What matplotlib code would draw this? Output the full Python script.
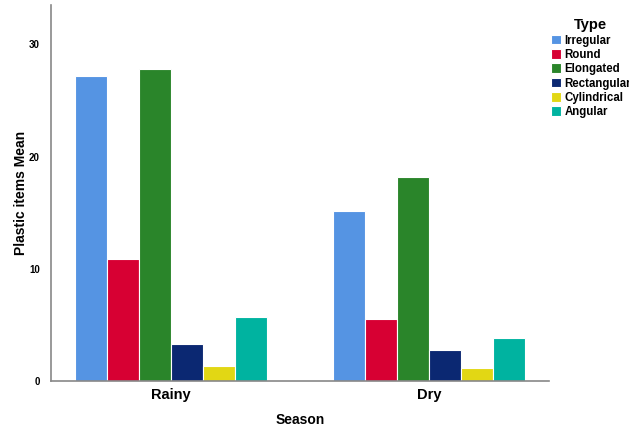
import matplotlib.pyplot as plt
import numpy as np

seasons = ["Rainy", "Dry"]
types = ["Irregular", "Round", "Elongated", "Rectangular", "Cylindrical", "Angular"]
rainy = [27.2, 10.85, 27.85, 3.3, 1.35, 5.7]
dry = [15.2, 5.55, 18.2, 2.8, 1.15, 3.8]
colors = ["#5594e3", "#d70033", "#2a852a", "#0b2872", "#e2d714", "#00b3a0"]

plt.rcParams["font.family"] = ["Liberation Sans", "DejaVu Sans"]

fig = plt.figure(figsize=(6.29, 4.28), dpi=100)
ax = fig.add_axes([0.0811, 0.1098, 0.7917, 0.878])

x = np.arange(len(seasons))
step = 0.124
values = np.array([rainy, dry])
for i, t in enumerate(types):
    off = (i - (len(types) - 1) / 2) * step
    ax.bar(x + off, values[:, i], width=step, color=colors[i],
           edgecolor="white", linewidth=0.8, label=t, zorder=2)

ax.set_xlim(-0.465, 1.465)
ax.set_ylim(0, 33.5)
ax.set_yticks([0, 10, 20, 30])
ax.set_xticks(x)
ax.set_xticklabels(seasons, fontsize=10.5, fontweight="bold")
for lab in ax.get_yticklabels():
    lab.set_fontsize(7)
    lab.set_fontweight("bold")
ax.tick_params(length=0, pad=8)
ax.tick_params(axis="x", pad=5)

for s in ["top", "right"]:
    ax.spines[s].set_visible(False)
for s in ["left", "bottom"]:
    ax.spines[s].set_color("#888888")
    ax.spines[s].set_linewidth(1.2)

ax.set_ylabel("Plastic items Mean", fontsize=10, fontweight="bold", labelpad=1)
ax.set_xlabel("Season", fontsize=10, fontweight="bold", labelpad=8)

leg = fig.legend(loc="upper left", bbox_to_anchor=(0.868, 0.968), title="Type",
                 frameon=False, fontsize=8.3, title_fontsize=10.5,
                 handlelength=0.9, handleheight=0.9, handletextpad=0.3,
                 labelspacing=0.2, borderaxespad=0)
leg.get_title().set_fontweight("bold")
for txt in leg.get_texts():
    txt.set_fontweight("bold")

fig.savefig("out.png", dpi=100)
